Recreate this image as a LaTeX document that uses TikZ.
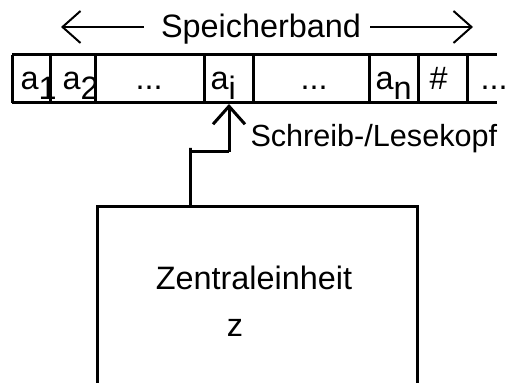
\documentclass[tikz,border=0pt]{standalone}
\usepackage{fontspec}
\setmainfont{Liberation Sans}
\usetikzlibrary{arrows.meta}
% tiefgestellter Index in voller Groesse
\newcommand{\idx}[1]{\raisebox{-.3em}{#1}}
\newcommand{\pkt}{...}

\begin{document}
\begin{tikzpicture}[x=.5pt,y=-.5pt,line width=1.5pt,line cap=butt,
		>={Straight Barb[length=9pt,width=16pt]},
		font=\fontsize{16.2}{19}\selectfont,
		zelle/.style={anchor=base west,inner sep=0pt},
		pfeil/.style={->,line width=1pt}]
	\useasboundingbox (0,0) rectangle (510,383);
	% Band mit Zellen
	\draw (12,55)--(497,55) (12,103)--(497,103);
	\foreach \x in {12,50,95,204,253,369,418,467} \draw (\x,55)--(\x,103);
	\foreach \x/\t [count=\i] in {19/a\idx{1},61/a\idx{2},134/\pkt,209/a\idx{i},299/\pkt,374/a\idx{n},428/\#,479/\pkt}
		\node[zelle] (c\i) at (\x,90) {\t};
	% Beschriftung oben
	\node[anchor=base,inner sep=0pt] (band) at (261,38) {Speicherband};
	\coordinate (bl) at (61,27);
	\coordinate (br) at (473,27);
	\draw[pfeil] ([xshift=-8pt]band.west |- bl) -- (bl);
	\draw[pfeil] ([xshift=4pt]band.east |- br) -- (br);
	% Lesekopf
	\coordinate (kopf) at (229,104);
	\coordinate (knick) at (229,152);
	\coordinate (stiel) at (190,152);
	\draw[->] (knick) -- (kopf);
	\node[anchor=base west,inner sep=0pt,font=\fontsize{15.3}{18}\selectfont] (lk) at (249,147) {Schreib-/Lesekopf};
	% Zentraleinheit (unten offen)
	\coordinate (zl) at (97,207);
	\coordinate (zr) at (417,207);
	\draw (97,383) -- (zl) -- (zr) -- (417,383);
	\node[anchor=base,inner sep=0pt] (ze) at (254,290) {Zentraleinheit};
	\node[anchor=base,inner sep=0pt] (z) at (235,337) {z};
	\draw (knick) -- (stiel) -- ([yshift=2pt]stiel) -- (stiel |- zl);
\end{tikzpicture}
\end{document}
